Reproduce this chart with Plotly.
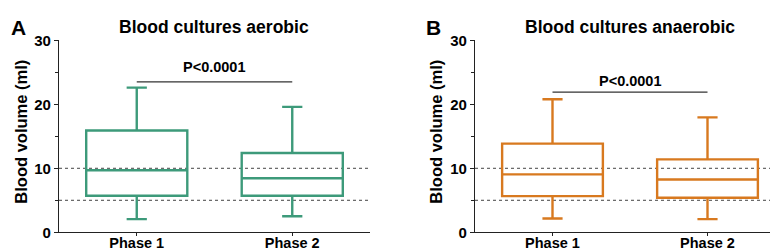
import plotly.graph_objects as go

categories = ["Phase 1", "Phase 2"]

aer_lower = [2.05, 2.5]
aer_q1 = [5.7, 5.7]
aer_median = [9.7, 8.45]
aer_q3 = [15.9, 12.4]
aer_upper = [22.6, 19.6]

ana_lower = [2.15, 2.05]
ana_q1 = [5.65, 5.4]
ana_median = [9.05, 8.25]
ana_q3 = [13.85, 11.4]
ana_upper = [20.8, 17.95]

ref_lines = [10, 5]
sig_text = "P<0.0001"
aer_sig_y = 23.5
aer_sig_text_y = 25.8
ana_sig_y = 21.9
ana_sig_text_y = 23.7

titles = ["Blood cultures aerobic", "Blood cultures anaerobic"]
panel_letters = ["A", "B"]
y_title = "Blood volume (ml)"
y_ticks = [0, 10, 20, 30]

GREEN = "#3d9a7a"
ORANGE = "#d8791f"
FONT = "Liberation Sans, Arial, sans-serif"
W, H = 778, 250

fig = go.Figure()

fig.add_trace(go.Box(
    x=categories, q1=aer_q1, median=aer_median, q3=aer_q3,
    lowerfence=aer_lower, upperfence=aer_upper,
    xaxis="x", yaxis="y", line=dict(color=GREEN, width=2.4),
    fillcolor="rgba(0,0,0,0)", width=0.65, whiskerwidth=0.2,
    boxpoints=False, showlegend=False, hoverinfo="skip"))

fig.add_trace(go.Box(
    x=categories, q1=ana_q1, median=ana_median, q3=ana_q3,
    lowerfence=ana_lower, upperfence=ana_upper,
    xaxis="x2", yaxis="y2", line=dict(color=ORANGE, width=2.4),
    fillcolor="rgba(0,0,0,0)", width=0.65, whiskerwidth=0.2,
    boxpoints=False, showlegend=False, hoverinfo="skip"))

dom1 = [51 / W, 362 / W]
dom2 = [467 / W, 777 / W]
ydom = [19 / H, 225 / H]

xax = dict(type="category", range=[-0.5, 1.5], showline=True, linecolor="#222222",
           linewidth=1.3, ticks="outside", ticklen=3, tickcolor="#222222",
           ticklabelstandoff=-6,
           tickfont=dict(family=FONT, size=14.5, color="#000000", weight="bold"),
           showgrid=False, zeroline=False, fixedrange=True)
yax = dict(range=[0, 30], tickvals=y_ticks, showline=True, linecolor="#222222",
           linewidth=1.3, ticks="outside", ticklen=4, tickcolor="#222222",
           tickfont=dict(family=FONT, size=15, color="#000000", weight="bold"),
           minor=dict(ticks="outside", dtick=5, ticklen=3, tickcolor="#222222", showgrid=False),
           showgrid=False, zeroline=False, domain=ydom, fixedrange=True)

fig.update_layout(
    width=W, height=H, margin=dict(l=0, r=0, t=0, b=0),
    paper_bgcolor="white", plot_bgcolor="white",
    xaxis=dict(xax, domain=dom1, anchor="y"),
    yaxis=dict(yax, anchor="x"),
    xaxis2=dict(xax, domain=dom2, anchor="y2"),
    yaxis2=dict(yax, anchor="x2"),
    showlegend=False,
)

shapes = []
for xr, yr in [("x", "y"), ("x2", "y2")]:
    for v in ref_lines:
        shapes.append(dict(type="line", xref=f"{xr} domain", yref=yr, x0=0, x1=1, y0=v, y1=v,
                           line=dict(color="#444444", width=1, dash="dot"), layer="below"))
shapes.append(dict(type="line", xref="x", yref="y", x0=categories[0], x1=categories[1],
                   y0=aer_sig_y, y1=aer_sig_y, line=dict(color="#333333", width=1.3)))
shapes.append(dict(type="line", xref="x2", yref="y2", x0=categories[0], x1=categories[1],
                   y0=ana_sig_y, y1=ana_sig_y, line=dict(color="#333333", width=1.3)))
fig.update_layout(shapes=shapes)

ann = []
bold = lambda s, c="#000000": dict(family=FONT, size=s, color=c, weight="bold")
ann.append(dict(text=titles[0], x=206 / W, y=(H - 11) / H, xref="paper", yref="paper",
                xanchor="center", yanchor="middle", showarrow=False, font=bold(17.5)))
ann.append(dict(text=titles[1], x=622 / W, y=(H - 11) / H, xref="paper", yref="paper",
                xanchor="center", yanchor="middle", showarrow=False, font=bold(17.5)))
ann.append(dict(text=panel_letters[0], x=10 / W, y=(H - 11) / H, xref="paper", yref="paper",
                xanchor="center", yanchor="middle", showarrow=False, font=bold(21)))
ann.append(dict(text=panel_letters[1], x=425 / W, y=(H - 11) / H, xref="paper", yref="paper",
                xanchor="center", yanchor="middle", showarrow=False, font=bold(21)))
ann.append(dict(text=y_title, x=13 / W, y=(H - 123) / H, xref="paper", yref="paper",
                textangle=-90, xanchor="center", yanchor="middle", showarrow=False, font=bold(16.5)))
ann.append(dict(text=y_title, x=428 / W, y=(H - 123) / H, xref="paper", yref="paper",
                textangle=-90, xanchor="center", yanchor="middle", showarrow=False, font=bold(16.5)))
ann.append(dict(text=sig_text, x=0.5, y=aer_sig_text_y, xref="x domain", yref="y",
                xanchor="center", yanchor="middle", showarrow=False, font=bold(14.5)))
ann.append(dict(text=sig_text, x=0.5, y=ana_sig_text_y, xref="x2 domain", yref="y2",
                xanchor="center", yanchor="middle", showarrow=False, font=bold(14.5)))
fig.update_layout(annotations=ann)

fig.write_html("out.html")
